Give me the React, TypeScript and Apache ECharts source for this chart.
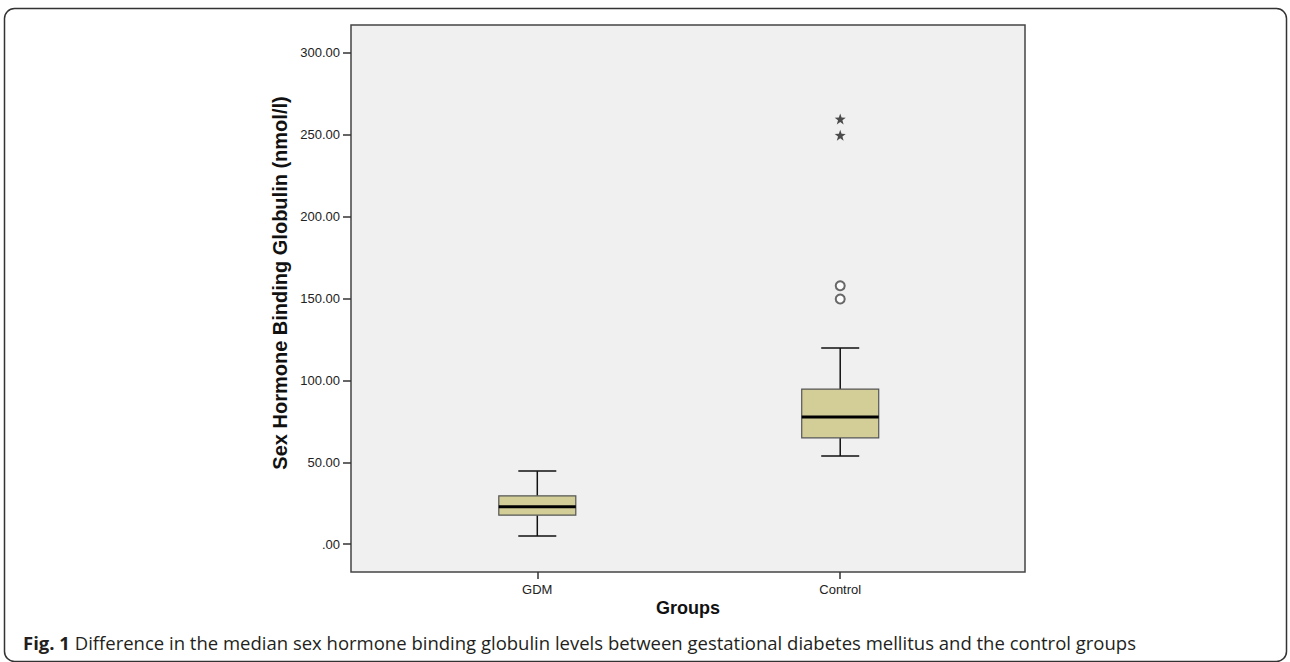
import React, { useEffect, useRef } from "react";
import * as echarts from "echarts";

const categories = ["GDM", "Control"];
// [position, lowWhisker, q1, median, q3, highWhisker]
const boxValues = [
  [1, 5, 17.7, 22.8, 29.5, 44.6],
  [2, 53.8, 64.9, 77.6, 94.7, 119.7],
];
const circleOutliers = [
  [2, 157.8],
  [2, 149.7],
];
const starOutliers = [
  [2, 259.6],
  [2, 249.7],
];
const yTicks = [0, 50, 100, 150, 200, 250, 300];
const xTicks = [1, 2];

const STAR =
  "path://M50,0L61.76,33.82L97.55,34.55L69.02,56.18L79.39,90.45L50,70L20.61,90.45L30.98,56.18L2.45,34.55L38.24,33.82Z";

export default function App() {
  const ref = useRef<HTMLDivElement>(null);
  useEffect(() => {
    document.body.style.margin = "0";
    const chart = echarts.init(ref.current!, null, { renderer: "svg" });
    const axisFont = "Liberation Sans, Arial, sans-serif";
    chart.setOption({
      animation: false,
      backgroundColor: "#ffffff",
      grid: {
        left: 351,
        top: 25,
        right: 265,
        bottom: 90,
        show: true,
        backgroundColor: "#f0f0f0",
        borderColor: "#444444",
        borderWidth: 1.5,
      },
      xAxis: {
        type: "value",
        min: 0.385,
        max: 2.61,
        splitLine: { show: false },
        axisLine: { show: false, onZero: false },
        axisTick: {
          show: true,
          customValues: xTicks,
          length: 7,
          lineStyle: { color: "#333", width: 1.5 },
        },
        axisLabel: {
          customValues: xTicks,
          formatter: (v: number) => categories[Math.round(v) - 1] ?? "",
          color: "#222",
          fontFamily: axisFont,
          fontSize: 13,
          margin: 11,
        },
      },
      yAxis: {
        type: "value",
        min: -17,
        max: 317,
        splitLine: { show: false },
        axisLine: { show: false, onZero: false },
        axisTick: {
          show: true,
          customValues: yTicks,
          length: 8,
          lineStyle: { color: "#333", width: 1.5 },
        },
        axisLabel: {
          customValues: yTicks,
          formatter: (v: number) => (v === 0 ? ".00" : v.toFixed(2)),
          color: "#222",
          fontFamily: axisFont,
          fontSize: 13,
          margin: 11,
        },
      },
      series: [
        {
          type: "custom",
          data: boxValues,
          renderItem: (params: any, api: any) => {
            const x = api.value(0);
            const lo = api.coord([x, api.value(1)]);
            const q1 = api.coord([x, api.value(2)]);
            const md = api.coord([x, api.value(3)]);
            const q3 = api.coord([x, api.value(4)]);
            const hi = api.coord([x, api.value(5)]);
            const cx = lo[0];
            const bw = 77;
            const cw = 38;
            const lineStyle = { stroke: "#111", lineWidth: 1.5 };
            return {
              type: "group",
              children: [
                { type: "line", shape: { x1: cx, y1: hi[1], x2: cx, y2: q3[1] }, style: lineStyle },
                { type: "line", shape: { x1: cx, y1: q1[1], x2: cx, y2: lo[1] }, style: lineStyle },
                { type: "line", shape: { x1: cx - cw / 2, y1: hi[1], x2: cx + cw / 2, y2: hi[1] }, style: lineStyle },
                { type: "line", shape: { x1: cx - cw / 2, y1: lo[1], x2: cx + cw / 2, y2: lo[1] }, style: lineStyle },
                {
                  type: "rect",
                  shape: { x: cx - bw / 2, y: q3[1], width: bw, height: q1[1] - q3[1] },
                  style: { fill: "#d3ce98", stroke: "#555", lineWidth: 1.2 },
                },
                { type: "line", shape: { x1: cx - bw / 2, y1: md[1], x2: cx + bw / 2, y2: md[1] }, style: { stroke: "#000", lineWidth: 3 } },
              ],
            };
          },
        },
        {
          type: "scatter",
          data: circleOutliers,
          symbol: "emptyCircle",
          symbolSize: 9,
          itemStyle: { color: "#444", borderColor: "#444", borderWidth: 1.3 },
        },
        {
          type: "scatter",
          data: starOutliers,
          symbol: STAR,
          symbolSize: 11,
          itemStyle: { color: "#222" },
        },
      ],
      graphic: [
        {
          type: "rect",
          shape: { x: 4.5, y: 8.5, width: 1282, height: 653, r: 10 },
          style: { fill: "none", stroke: "#333", lineWidth: 1.5 },
          silent: true,
        },
        {
          type: "text",
          x: 280,
          y: 283,
          rotation: Math.PI / 2,
          style: {
            text: "Sex Hormone Binding Globulin (nmol/l)",
            font: "bold 20px Liberation Sans, Arial, sans-serif",
            fill: "#111",
            align: "center",
            verticalAlign: "middle",
          },
        },
        {
          type: "text",
          x: 688,
          y: 608,
          style: {
            text: "Groups",
            font: "bold 18px Liberation Sans, Arial, sans-serif",
            fill: "#111",
            align: "center",
            verticalAlign: "middle",
          },
        },
        {
          type: "text",
          x: 23,
          y: 642,
          style: {
            text: "{b|Fig. 1} Difference in the median sex hormone binding globulin levels between gestational diabetes mellitus and the control groups",
            font: "18.5px Open Sans, sans-serif",
            fill: "#231f20",
            verticalAlign: "middle",
            rich: {
              b: { fontWeight: "bold", fontFamily: "Open Sans, sans-serif", fontSize: 18.5, fill: "#231f20" },
            },
          },
        },
      ],
    });
    return () => chart.dispose();
  }, []);
  return <div ref={ref} style={{ width: 1290, height: 662 }} />;
}
